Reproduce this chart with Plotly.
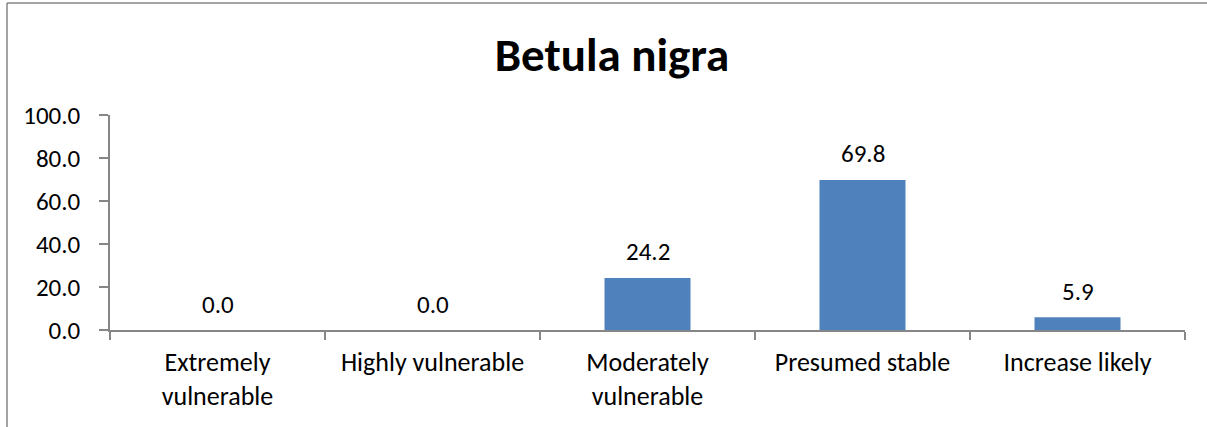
import plotly.graph_objects as go

# Vulnerability classes and the share of Betula nigra in each (%)
categories = ["Extremely<br>vulnerable", "Highly vulnerable", "Moderately<br>vulnerable",
              "Presumed stable", "Increase likely"]
values = [0.0, 0.0, 24.2, 69.8, 5.9]
y_ticks = [0, 20, 40, 60, 80, 100]
y_tick_labels = ["0.0", "20.0", "40.0", "60.0", "80.0", "100.0"]

FONT = "Carlito, Calibri, Lato, sans-serif"
AXIS_GREY = "#868686"
BAR_BLUE = "#4F81BD"
TXT = 25

fig = go.Figure()
fig.add_trace(go.Bar(
    x=categories, y=values, marker=dict(color=BAR_BLUE, line=dict(width=0)),
    width=0.4, hoverinfo="skip",
))

# value labels above each bar
for c, v in zip(categories, values):
    fig.add_annotation(x=c, y=v, text=f"{v:.1f}", showarrow=False,
                       yanchor="middle", yshift=26,
                       font=dict(family=FONT, size=TXT, color="#000000"))

fig.update_layout(
    width=1207, height=427,
    margin=dict(l=110, r=22, t=115, b=97),
    paper_bgcolor="white", plot_bgcolor="white",
    showlegend=False,
    title=dict(text="<b>Betula nigra</b>", x=612 / 1207, xanchor="center",
               y=1 - 55 / 427, yanchor="middle", yref="container",
               font=dict(family=FONT, size=47, color="#000000")),
    font=dict(family=FONT, size=TXT, color="#000000"),
    bargap=0.6,
)

fig.update_xaxes(
    type="category", showline=True, linecolor=AXIS_GREY, linewidth=1.5,
    ticks="outside", tickson="boundaries", ticklen=8, tickcolor=AXIS_GREY,
    tickwidth=1.5, showgrid=False, zeroline=False,
    tickfont=dict(family=FONT, size=26, color="#000000"),
    ticklabelstandoff=8,
)
fig.update_yaxes(
    range=[0, 100], tickvals=y_ticks, ticktext=y_tick_labels,
    showline=True, linecolor=AXIS_GREY, linewidth=1.5,
    ticks="outside", ticklen=9, tickcolor=AXIS_GREY, tickwidth=1.5,
    showgrid=False, zeroline=False,
    tickfont=dict(family=FONT, size=TXT, color="#000000"),
    ticklabelstandoff=14,
)

# outer chart frame: left and top edges
frame_x = (7 - 110) / 1075
frame_y = (330 - 3) / 215
frame_right = (1207 - 110) / 1075
fig.add_shape(type="line", xref="paper", yref="paper",
              x0=frame_x, x1=frame_x, y0=-97 / 215, y1=frame_y,
              line=dict(color=AXIS_GREY, width=1.5), layer="below")
fig.add_shape(type="line", xref="paper", yref="paper",
              x0=frame_x, x1=frame_right, y0=frame_y, y1=frame_y,
              line=dict(color=AXIS_GREY, width=1.5), layer="below")

# keep the page free of scrollbars
fig.write_html("out.html", config={"displayModeBar": False},
               post_script="document.body.style.margin='0';"
                           "document.body.style.overflow='hidden';")
